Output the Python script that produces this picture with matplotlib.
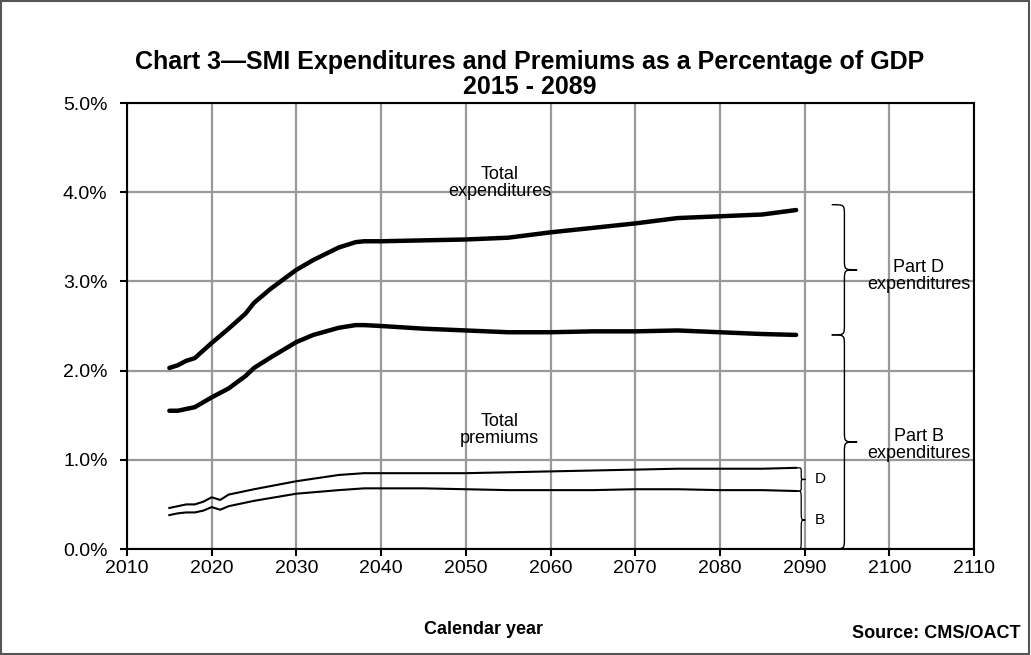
import matplotlib.pyplot as plt
from matplotlib.path import Path
from matplotlib.patches import PathPatch, Rectangle
from matplotlib.ticker import FuncFormatter

plt.rcParams['font.family'] = ['Liberation Sans', 'DejaVu Sans']

# Values (percent of GDP)
years_exp = [2015, 2016, 2017, 2018, 2020, 2022, 2024, 2025, 2027, 2030, 2032, 2035, 2037, 2038,
             2040, 2045, 2050, 2055, 2060, 2065, 2070, 2075, 2080, 2085, 2089]
total_exp = [2.03, 2.06, 2.11, 2.14, 2.31, 2.47, 2.64, 2.76, 2.92, 3.13, 3.24, 3.38, 3.44, 3.45,
             3.45, 3.46, 3.47, 3.49, 3.55, 3.60, 3.65, 3.71, 3.73, 3.75, 3.80]
partb_exp = [1.55, 1.55, 1.57, 1.59, 1.70, 1.80, 1.94, 2.03, 2.15, 2.32, 2.40, 2.48, 2.51, 2.51,
             2.50, 2.47, 2.45, 2.43, 2.43, 2.44, 2.44, 2.45, 2.43, 2.41, 2.40]

years_prem = [2015, 2016, 2017, 2018, 2019, 2020, 2021, 2022, 2025, 2030, 2035, 2038,
              2045, 2050, 2055, 2060, 2065, 2070, 2075, 2080, 2085, 2089]
total_prem = [0.46, 0.48, 0.50, 0.50, 0.53, 0.58, 0.55, 0.61, 0.67, 0.76, 0.83, 0.85,
              0.85, 0.85, 0.86, 0.87, 0.88, 0.89, 0.90, 0.90, 0.90, 0.91]
partb_prem = [0.38, 0.40, 0.41, 0.41, 0.43, 0.47, 0.44, 0.48, 0.54, 0.62, 0.66, 0.68,
              0.68, 0.67, 0.66, 0.66, 0.66, 0.67, 0.67, 0.66, 0.66, 0.65]

x_ticks = list(range(2010, 2111, 10))
y_ticks = [0, 1, 2, 3, 4, 5]


def brace(ax, x0, x1, ytop, ybot, lw=1.0):
    # vertical curly brace opening left, tip pointing right at x1
    xm = (x0 + x1) / 2
    ymid = (ytop + ybot) / 2
    r = min(0.12, (ytop - ybot) / 6)
    verts = [(x0, ytop),
             (xm, ytop), (xm, ytop), (xm, ytop - r),
             (xm, ymid + r),
             (xm, ymid), (xm, ymid), (x1, ymid),
             (xm, ymid), (xm, ymid), (xm, ymid - r),
             (xm, ybot + r),
             (xm, ybot), (xm, ybot), (x0, ybot)]
    codes = [Path.MOVETO,
             Path.CURVE4, Path.CURVE4, Path.CURVE4,
             Path.LINETO,
             Path.CURVE4, Path.CURVE4, Path.CURVE4,
             Path.CURVE4, Path.CURVE4, Path.CURVE4,
             Path.LINETO,
             Path.CURVE4, Path.CURVE4, Path.CURVE4]
    ax.add_patch(PathPatch(Path(verts, codes), fill=False, lw=lw, color='black',
                           clip_on=False))


fig = plt.figure(figsize=(10.31, 6.55), dpi=100)
ax = fig.add_axes([127 / 1031, 1 - 549 / 655, (974 - 127) / 1031, (549 - 103) / 655])

ax.plot(years_exp, total_exp, color='black', lw=3.2, solid_capstyle='round')
ax.plot(years_exp, partb_exp, color='black', lw=3.2, solid_capstyle='round')
ax.plot(years_prem, total_prem, color='black', lw=1.5)
ax.plot(years_prem, partb_prem, color='black', lw=1.5)

ax.set_xlim(2010, 2110)
ax.set_ylim(0, 5)
ax.set_xticks(x_ticks)
ax.set_yticks(y_ticks)
ax.yaxis.set_major_formatter(FuncFormatter(lambda v, p: f'{v:.1f}%'))
ax.grid(True, color='#999999', lw=1.6)
ax.set_axisbelow(True)
ax.tick_params(labelsize=14, length=5, width=1.5, direction='out')
ax.tick_params(axis='y', pad=9)
ax.tick_params(axis='x', pad=3)
for s in ax.spines.values():
    s.set_linewidth(1.5)

# annotations
ax.text(2054, 4.1, 'Total\nexpenditures', ha='center', va='center', fontsize=13,
        linespacing=1.0)
ax.text(2054, 1.33, 'Total\npremiums', ha='center', va='center', fontsize=13,
        linespacing=1.0)

brace(ax, 2093.2, 2096.2, total_exp[-1] + 0.06, partb_exp[-1])
brace(ax, 2093.2, 2096.2, partb_exp[-1], 0.0)
brace(ax, 2089.1, 2090.1, total_prem[-1], partb_prem[-1], lw=0.9)
brace(ax, 2089.1, 2090.1, partb_prem[-1], 0.0, lw=0.9)

ax.text(2103.5, 3.06, 'Part D\nexpenditures', ha='center', va='center', fontsize=13,
        linespacing=1.0)
ax.text(2103.5, 1.17, 'Part B\nexpenditures', ha='center', va='center', fontsize=13,
        linespacing=1.0)
ax.text(2091.8, 0.78, 'D', ha='center', va='center', fontsize=11)
ax.text(2091.8, 0.32, 'B', ha='center', va='center', fontsize=11)

fig.text(530 / 1031, 1 - 62 / 655, 'Chart 3\u2014SMI Expenditures and Premiums as a Percentage of GDP',
         ha='center', va='center', fontsize=18, fontweight='bold')
fig.text(530 / 1031, 1 - 87 / 655, '2015 - 2089', ha='center', va='center',
         fontsize=18, fontweight='bold')
fig.text(483 / 1031, 1 - 630 / 655, 'Calendar year', ha='center', va='center',
         fontsize=13, fontweight='bold')
fig.text(1021 / 1031, 1 - 633 / 655, 'Source: CMS/OACT', ha='right', va='center',
         fontsize=13, fontweight='bold')

fig.patches.append(Rectangle((0.001, 0.002), 0.997, 0.996, transform=fig.transFigure,
                             fill=False, edgecolor='#555555', lw=1.5))

fig.savefig('out.png', dpi=100)
